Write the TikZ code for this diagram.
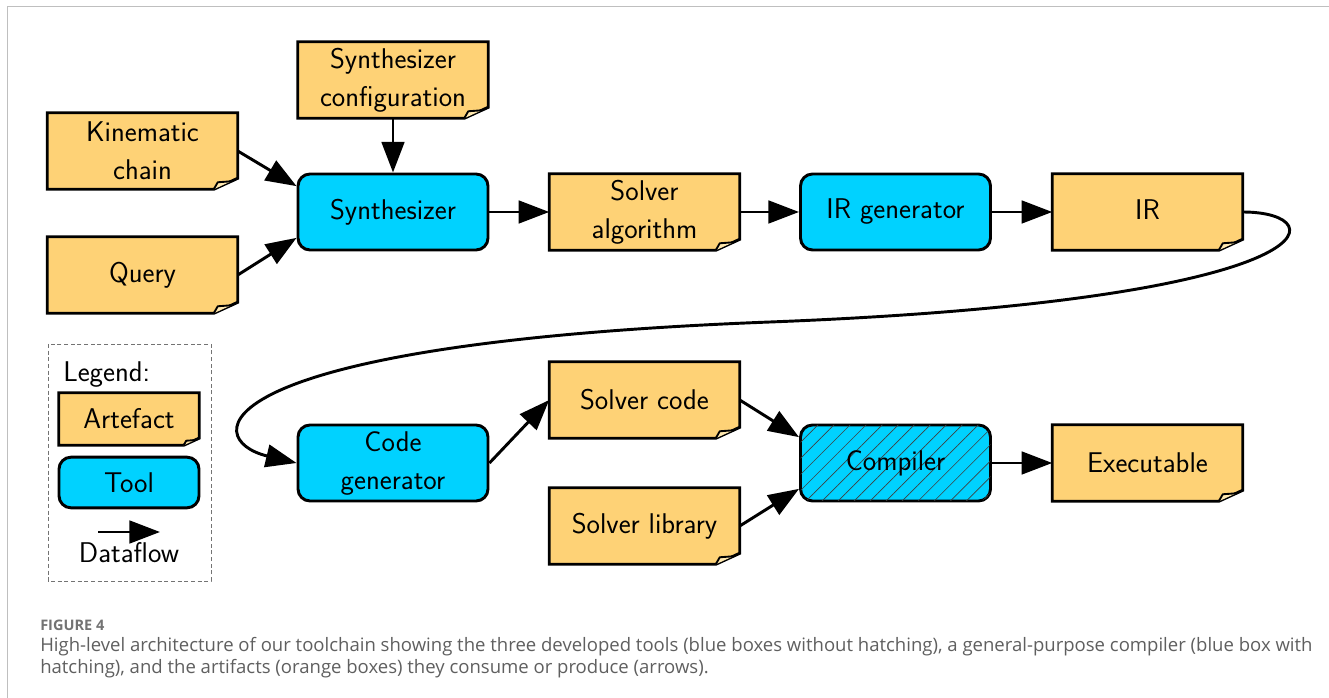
\documentclass[tikz,border=0pt]{standalone}
\usepackage{fontspec}
\newfontfamily\capfont{Open Sans}
\usetikzlibrary{arrows.meta,patterns.meta,backgrounds,calc}
\definecolor{artfill}{RGB}{254,210,118}
\definecolor{artlight}{RGB}{255,232,175}
\definecolor{toolfill}{RGB}{0,210,255}
\definecolor{capgray}{RGB}{95,95,95}
\newcommand\artshape[2]{%
  \filldraw[fill=artfill, line width=2.2pt, line join=miter]
    (#1.north west) -- (#1.north east) -- ($(#1.south east)+(0,-11*#2)$)
    -- ($(#1.south east)+(-24*#2,0)$) -- (#1.south west) -- cycle;
  \filldraw[fill=artlight, line width=1.4pt, line join=round]
    ($(#1.south east)+(-24*#2,0)$) -- ($(#1.south east)+(-20*#2,-7*#2)$)
    -- ($(#1.south east)+(-6*#2,-8*#2)$) -- ($(#1.south east)+(0,-11*#2)$);
}
\begin{document}
\begin{tikzpicture}[x=0.75pt,y=-0.75pt,
  every node/.style={font=\sffamily\fontsize{21.4}{28.5}\selectfont, align=center, inner sep=0pt},
  artbox/.style={minimum width=142.5pt, minimum height=57pt},
  toolbox/.style={draw=black, line width=2.2pt, fill=toolfill, rounded corners=9pt,
    minimum width=142.5pt, minimum height=57pt},
  hatched/.style={postaction={pattern={Lines[angle=45,distance=8.5pt,line width=0.5pt]}, pattern color=black!75}},
  flow/.style={line width=2.2pt, -{Triangle[length=23pt,width=17pt]}},
  captext/.style={font=\capfont\fontsize{13.9}{16.5}\selectfont, text=capgray, anchor=base west, align=left},
]
\useasboundingbox (0,0) rectangle (1329,698);
\draw[black!25, line width=0.75pt] (7,698) -- (7,7) -- (1329,7);

% artefacts
\node[artbox] (kin) at (142.5,151) {Kinematic\\chain};
\node[artbox] (query) at (142.5,275) {Query};
\node[artbox] (sconf) at (393,80) {Synthesizer\\configuration};
\node[artbox] (salg) at (644.5,212) {Solver\\algorithm};
\node[artbox] (ir) at (1147.5,210) {IR};
\node[artbox] (scode) at (644.5,400) {Solver code};
\node[artbox] (slib) at (644.5,526) {Solver library};
\node[artbox] (exe) at (1147.5,463) {Executable};
\node[minimum width=105pt, minimum height=39pt] (lart) at (129,419) {Artefact};

\begin{scope}[on background layer]
  \foreach \n in {kin,query,sconf,salg,scode,slib,exe}{\artshape{\n}{1}}
  \node[artbox] (irbg) at (1147.5,212) {};
  \artshape{irbg}{1}
  \artshape{lart}{0.65}
\end{scope}

% tools
\node[toolbox] (synth) at (393,212) {Synthesizer};
\node[toolbox] (irgen) at (895.5,212) {IR generator};
\node[toolbox] (codegen) at (393,463) {Code\\generator};
\node[toolbox, hatched] (comp) at (895.5,463) {Compiler};
\node[toolbox, minimum width=105pt, minimum height=38pt] (ltool) at (129,482.5) {Tool};

% legend
\draw[black!55, dashed, dash pattern=on 3pt off 2pt, line width=0.6pt] (48,344) rectangle (211,581);
\node[anchor=west] (leg) at (63,375) {Legend:};
\coordinate (la) at (98,532);
\coordinate (lb) at (160,532);
\draw[flow] (la) -- (lb);
\node (ldf) at (129,553) {Dataflow};

% connectors
\draw[flow] (kin.east) -- (synth.165);
\draw[flow] (query.east) -- (synth.195);
\draw[flow] (sconf.south) -- (synth.north);
\draw[flow] (synth.east) -- (salg.west);
\draw[flow] (salg.east) -- (irgen.west);
\draw[flow] (irgen.east) -- (irbg.west);
\coordinate (mid) at (770,322);
\draw[flow] (irbg.east) .. controls (1338,212) and (1336,300) .. (mid)
  .. controls (195,344) and (200,440) .. (codegen.west);
\draw[flow] (codegen.east) -- (scode.west);
\draw[flow] (scode.east) -- (comp.165);
\draw[flow] (slib.east) -- (comp.195);
\draw[flow] (comp.east) -- (exe.west);

% caption
\node[captext, font=\capfont\fontsize{10.9}{12}\selectfont\bfseries, text=black!55] (fig) at (40,630) {FIGURE 4};
\node[captext] (cap1) at (40,651) {High-level architecture of our toolchain showing the three developed tools (blue boxes without hatching), a general-purpose compiler (blue box with};
\node[captext] (cap2) at (40,673) {hatching), and the artifacts (orange boxes) they consume or produce (arrows).};
\end{tikzpicture}
\end{document}
